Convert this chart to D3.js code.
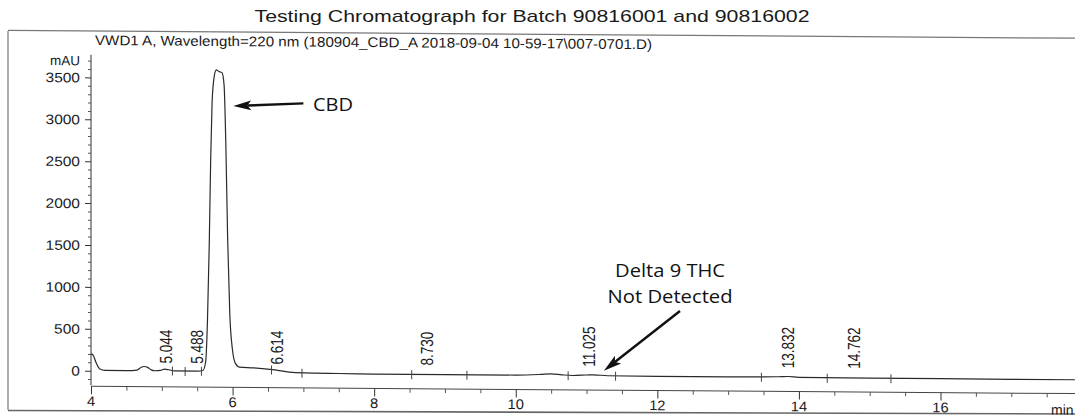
<!DOCTYPE html>
<html>
<head>
<meta charset="utf-8">
<script src="https://cdn.jsdelivr.net/npm/d3@7"></script>
<style>
  body { margin: 0; background: #fff; }
  svg { display: block; }
  text { font-family: "Liberation Sans", Arial, sans-serif; fill: #1a1a1a; }
  .note { font-family: "Open Sans", "DejaVu Sans", sans-serif; fill: #111; }
</style>
</head>
<body>
<svg width="1075" height="417"></svg>
<script>
// titres
var titre = "Testing Chromatograph for Batch 90816001 and 90816002";
var sousTitre = "VWD1 A, Wavelength=220 nm (180904_CBD_A 2018-09-04 10-59-17\\007-0701.D)";

var temps = [4.00, 4.03, 4.07, 4.12, 4.20, 4.50, 4.65, 4.70, 4.75, 4.80, 4.85, 4.90, 4.98, 5.04, 5.10, 5.18,
  5.50, 5.58, 5.62, 5.645, 5.67, 5.69, 5.71, 5.74, 5.77, 5.81, 5.85, 5.88, 5.905, 5.93, 5.96, 6.00, 6.04, 6.10,
  6.30, 6.60, 6.80, 7.00, 7.50, 8.00, 9.00, 10.00, 10.35, 10.50, 10.65, 10.80, 11.00, 11.10, 11.30, 12.00,
  13.00, 13.70, 13.85, 14.00, 15.00, 16.00, 17.00, 18.80];
var signal = [200, 185, 100, 25, 5, 5, 12, 40, 55, 45, 15, 5, 10, 25, 18, 5,
  5, 12, 120, 600, 1500, 2500, 3200, 3520, 3600, 3580, 3570, 3420, 2700, 1600, 700, 250, 100, 55,
  48, 25, 0, -8, -12, -15, -15, -15, -5, 2, -8, -15, -8, -5, -15, -18,
  -18, -12, -8, -18, -20, -20, -22, -22];

// pics integres
var picsTemps = [5.044, 5.488, 6.614, 8.730, 11.025, 13.832, 14.762];
var picsLabels = ["5.044", "5.488", "6.614", "8.730", "11.025", "13.832", "14.762"];
// marques de debut / fin d'integration
var marques = [5.15, 5.33, 5.56, 6.55, 6.98, 8.53, 9.31, 10.74, 11.41, 13.47, 14.40, 15.30];

// axes
var yTicksLabels = [0, 500, 1000, 1500, 2000, 2500, 3000, 3500];
var xTicksLabels = [4, 6, 8, 10, 12, 14, 16];

// annotations (coordonnees en unites des donnees)
var cbdTexte = "CBD";
var cbdPos = [7.135, 3098];
var cbdFleche = [[7.00, 3190], [6.01, 3158]];
var thcTexte = ["Delta 9 THC", "Not Detected"];
var thcPos = [[12.18, 1118], [12.18, 811]];
var thcFleche = [[12.32, 712], [11.245, 0]];

var svg = d3.select("svg");
var skew = 0.42; // le scan est legerement de travers

var x = d3.scaleLinear().domain([4, 16]).range([91, 940.5]);
var y = d3.scaleLinear().domain([0, 3500]).range([370.7, 77.4]);

// cadre
svg.append("line").attr("x1", 8).attr("x2", 8).attr("y1", 31).attr("y2", 410)
  .attr("stroke", "#777").attr("stroke-width", 1.2);
svg.append("line").attr("x1", 8).attr("x2", 1075).attr("y1", 410.5).attr("y2", 414)
  .attr("stroke", "#666").attr("stroke-width", 1.6);

// titre
svg.append("text").attr("x", 532).attr("y", 22).attr("text-anchor", "middle")
  .attr("font-size", 17).attr("textLength", 555).attr("lengthAdjust", "spacingAndGlyphs")
  .text(titre);

// groupe incline comme le scan
var g = svg.append("g")
  .attr("transform", "translate(91,0) skewY(" + skew + ") translate(-91,0)");

g.append("line").attr("x1", 8).attr("x2", 1080).attr("y1", 31).attr("y2", 31)
  .attr("stroke", "#777").attr("stroke-width", 1.2);

g.append("text").attr("x", 95).attr("y", 45).attr("font-size", 14)
  .attr("textLength", 557).attr("lengthAdjust", "spacingAndGlyphs")
  .text(sousTitre);

// texte etire horizontalement (le scan est etire)
function texteEtire(parent, px, py, str, size, anchor, sx, rot) {
  var t = parent.append("g")
    .attr("transform", "translate(" + px + "," + py + ") scale(" + sx + ",1)" + (rot ? " rotate(-90)" : ""));
  t.append("text").attr("font-size", size).attr("text-anchor", anchor || "start").text(str);
}

// axe Y
var yBas = -175, yHaut = 3770;
g.append("line").attr("x1", 91).attr("x2", 91).attr("y1", y(yHaut)).attr("y2", y(yBas))
  .attr("stroke", "#333").attr("stroke-width", 1);
var yAxis = d3.axisLeft(y).tickValues(yTicksLabels).tickSize(6).tickFormat("");
var ya = g.append("g").attr("transform", "translate(91,0)").call(yAxis);
ya.select(".domain").remove();
ya.selectAll("line").attr("stroke", "#333");
var yMinor = d3.axisLeft(y).tickValues(d3.range(-100, 3800, 100).filter(function(v){ return v % 500 != 0; }))
  .tickSize(3).tickFormat("");
var ym = g.append("g").attr("transform", "translate(91,0)").call(yMinor);
ym.select(".domain").remove();
ym.selectAll("line").attr("stroke", "#555");
yTicksLabels.forEach(function(v) {
  texteEtire(g, 80, y(v) + 5, String(v), 13.5, "end", 1.15);
});
texteEtire(g, 80, y(3500) - 12, "mAU", 13.5, "end", 1.0);

// axe X
var xAxisY = y(yBas) + 1;
g.append("line").attr("x1", 91).attr("x2", 1080).attr("y1", xAxisY).attr("y2", xAxisY)
  .attr("stroke", "#444").attr("stroke-width", 1);
var xMinor = d3.axisBottom(x).tickValues(d3.range(4, 18.6, 0.5).filter(function(v){ return v % 2 != 0; }))
  .tickSize(4).tickFormat("");
var xm = g.append("g").attr("transform", "translate(0," + xAxisY + ")").call(xMinor);
xm.select(".domain").remove();
xm.selectAll("line").attr("stroke", "#555");
var xAxis = d3.axisBottom(x).tickValues(xTicksLabels).tickSize(8).tickFormat("");
var xa = g.append("g").attr("transform", "translate(0," + xAxisY + ")").call(xAxis);
xa.select(".domain").remove();
xa.selectAll("line").attr("stroke", "#333");
xTicksLabels.forEach(function(v) {
  texteEtire(g, x(v), 406, String(v), 14, "middle", 1.05);
});
texteEtire(g, 1051, 407.5, "min", 14, "start", 1.0);

// trace
var points = temps.map(function(t, i) { return [t, signal[i]]; });
var ligne = d3.line().x(function(d){ return x(d[0]); }).y(function(d){ return y(d[1]); })
  .curve(d3.curveMonotoneX);
g.append("path").datum(points).attr("d", ligne)
  .attr("fill", "none").attr("stroke", "#2a2a2a").attr("stroke-width", 1.2);

function valeurA(t) {
  var i = d3.bisectLeft(temps, t);
  if (i <= 0) return signal[0];
  if (i >= temps.length) return signal[signal.length - 1];
  var k = (t - temps[i - 1]) / (temps[i] - temps[i - 1]);
  return signal[i - 1] + k * (signal[i] - signal[i - 1]);
}

// marques d'integration
g.selectAll(".marque").data(marques).enter().append("line")
  .attr("class", "marque")
  .attr("x1", function(d){ return x(d); }).attr("x2", function(d){ return x(d); })
  .attr("y1", function(d){ return y(valeurA(d)) - 4; })
  .attr("y2", function(d){ return y(valeurA(d)) + 5; })
  .attr("stroke", "#444").attr("stroke-width", 1);

// etiquettes des pics
picsTemps.forEach(function(t, i) {
  texteEtire(g, x(t) + 7, 363, picsLabels[i], 13.5, "start", 1.3, true);
});

// annotations
function fleche(a, b) {
  var x1 = x(a[0]), y1 = y(a[1]), x2 = x(b[0]), y2 = y(b[1]);
  var ang = Math.atan2(y2 - y1, x2 - x1);
  var L = 18, W = 5;
  var bx = x2 - L * Math.cos(ang), by = y2 - L * Math.sin(ang);
  svg.append("line").attr("x1", x1).attr("y1", y1).attr("x2", bx + 4 * Math.cos(ang)).attr("y2", by + 4 * Math.sin(ang))
    .attr("stroke", "#111").attr("stroke-width", 2.4);
  var p1 = [bx + W * Math.sin(ang), by - W * Math.cos(ang)];
  var p2 = [bx - W * Math.sin(ang), by + W * Math.cos(ang)];
  var pm = [x2 - (L - 4) * Math.cos(ang), y2 - (L - 4) * Math.sin(ang)];
  svg.append("path").attr("d", "M" + [x2, y2] + "L" + p1 + "L" + pm + "L" + p2 + "Z").attr("fill", "#111");
}
fleche(cbdFleche[0], cbdFleche[1]);
fleche(thcFleche[0], thcFleche[1]);

svg.append("text").attr("class", "note").attr("x", x(cbdPos[0])).attr("y", y(cbdPos[1]))
  .attr("font-size", 18).attr("textLength", 40).attr("lengthAdjust", "spacingAndGlyphs").text(cbdTexte);
var largeurs = [110, 125];
thcTexte.forEach(function(s, i) {
  svg.append("text").attr("class", "note").attr("x", x(thcPos[i][0])).attr("y", y(thcPos[i][1]))
    .attr("text-anchor", "middle").attr("font-size", 17.5)
    .attr("textLength", largeurs[i]).attr("lengthAdjust", "spacingAndGlyphs").text(s);
});
</script>
</body>
</html>
